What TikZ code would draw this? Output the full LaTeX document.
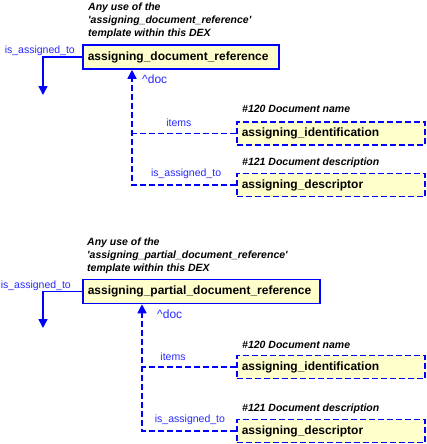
\documentclass[tikz,border=0pt]{standalone}
\usepackage{fontspec}
\setmainfont{Liberation Sans}
\usetikzlibrary{arrows.meta, positioning}
\definecolor{linkBlue}{RGB}{0,0,255}
\definecolor{labelBlue}{RGB}{40,40,255}
\definecolor{boxYellow}{RGB}{255,255,204}
\tikzset{
    dex/.style={x=1pt, y=-1pt, line join=miter,
                font=\fontsize{10.5}{12.5}\selectfont},
    refbox/.style={draw=linkBlue, line width=1.6pt, fill=boxYellow,
                   minimum height=24pt, inner xsep=5pt, align=left,
                   font=\fontsize{12}{14}\selectfont\bfseries},
    itembox/.style={refbox, dash pattern=on 6pt off 3pt, minimum height=23pt},
    note/.style={font=\fontsize{10.5}{13}\selectfont\bfseries\itshape,
                 align=left, inner sep=0pt},
    linklabel/.style={text=labelBlue, inner sep=1pt},
    rolelabel/.style={linklabel, font=\fontsize{12}{14}\selectfont},
    link/.style={draw=linkBlue, line width=1.6pt,
                 -{Triangle[length=9pt, width=9pt]}},
    dashlink/.style={draw=linkBlue, line width=1.6pt,
                     dash pattern=on 6pt off 3pt},
}

\begin{document}
\begin{tikzpicture}[dex]
\useasboundingbox (0,0) rectangle (427,444);

% ─── assigning_document_reference ───────────────────────────────────────
\node[refbox, text width=186pt, anchor=west] (docref) at (82,57)
    {assigning\_document\_reference};
\node[note, above=5pt of docref.north west, anchor=south west, xshift=6pt] (docnote)
    {Any use of the\\\textquotesingle assigning\_document\_reference\textquotesingle\\template within this DEX};

\node[itembox, text width=178pt, anchor=west] (docident) at (236,133.5)
    {assigning\_identification};
\node[note, above=8pt of docident.north west, anchor=south west, xshift=6pt] (docidentnote)
    {\#120 Document name};

\node[itembox, text width=178pt, anchor=west] (docdescr) at (236,185)
    {assigning\_descriptor};
\node[note, above=5pt of docdescr.north west, anchor=south west, xshift=6pt] (docdescrnote)
    {\#121 Document description};

\coordinate (docout) at (43,95);
\draw[link] (docref.west) -| (docout);
\node[linklabel, above left=0pt and 6pt of docref.west] (docoutlabel) {is\_assigned\_to};

\coordinate (docspine) at (132,185);
\coordinate (docarrow) at (docspine |- docref.south);
\draw[dashlink, -{Triangle[length=9pt, width=9pt]}] (docdescr.west)
    -- node[linklabel, above=5pt, pos=0.48] {is\_assigned\_to} (docspine) -- (docarrow);
\draw[dashlink] (docident.west)
    -- node[linklabel, above=5pt, pos=0.55] {items} (docident.west -| docspine);
\node[rolelabel, below right=4pt and 9pt of docarrow] (docrole) {\textasciicircum doc};

% ─── assigning_partial_document_reference ───────────────────────────────
\node[refbox, text width=227pt, anchor=west] (partref) at (82,291.5)
    {assigning\_partial\_document\_reference};
\node[note, above=5pt of partref.north west, anchor=south west, xshift=5pt] (partnote)
    {Any use of the\\\textquotesingle assigning\_partial\_document\_reference\textquotesingle\\template within this DEX};

\node[itembox, text width=178pt, anchor=west] (partident) at (236,367)
    {assigning\_identification};
\node[note, above=6pt of partident.north west, anchor=south west, xshift=6pt] (partidentnote)
    {\#120 Document name};

\node[itembox, text width=178pt, anchor=west] (partdescr) at (236,431)
    {assigning\_descriptor};
\node[note, above=5pt of partdescr.north west, anchor=south west, xshift=6pt] (partdescrnote)
    {\#121 Document description};

\coordinate (partout) at (43,328);
\draw[link] (partref.west) -| (partout);
\node[linklabel, above left=0pt and 10pt of partref.west] (partoutlabel) {is\_assigned\_to};

\coordinate (partspine) at (142,431);
\coordinate (partarrow) at (partspine |- partref.south);
\draw[dashlink, -{Triangle[length=9pt, width=9pt]}] (partdescr.west)
    -- node[linklabel, above=5pt, pos=0.49] {is\_assigned\_to} (partspine) -- (partarrow);
\draw[dashlink] (partident.west)
    -- node[linklabel, above=5pt, pos=0.67] {items} (partident.west -| partspine);
\node[rolelabel, below right=4pt and 14pt of partarrow] (partrole) {\textasciicircum doc};

\end{tikzpicture}
\end{document}
